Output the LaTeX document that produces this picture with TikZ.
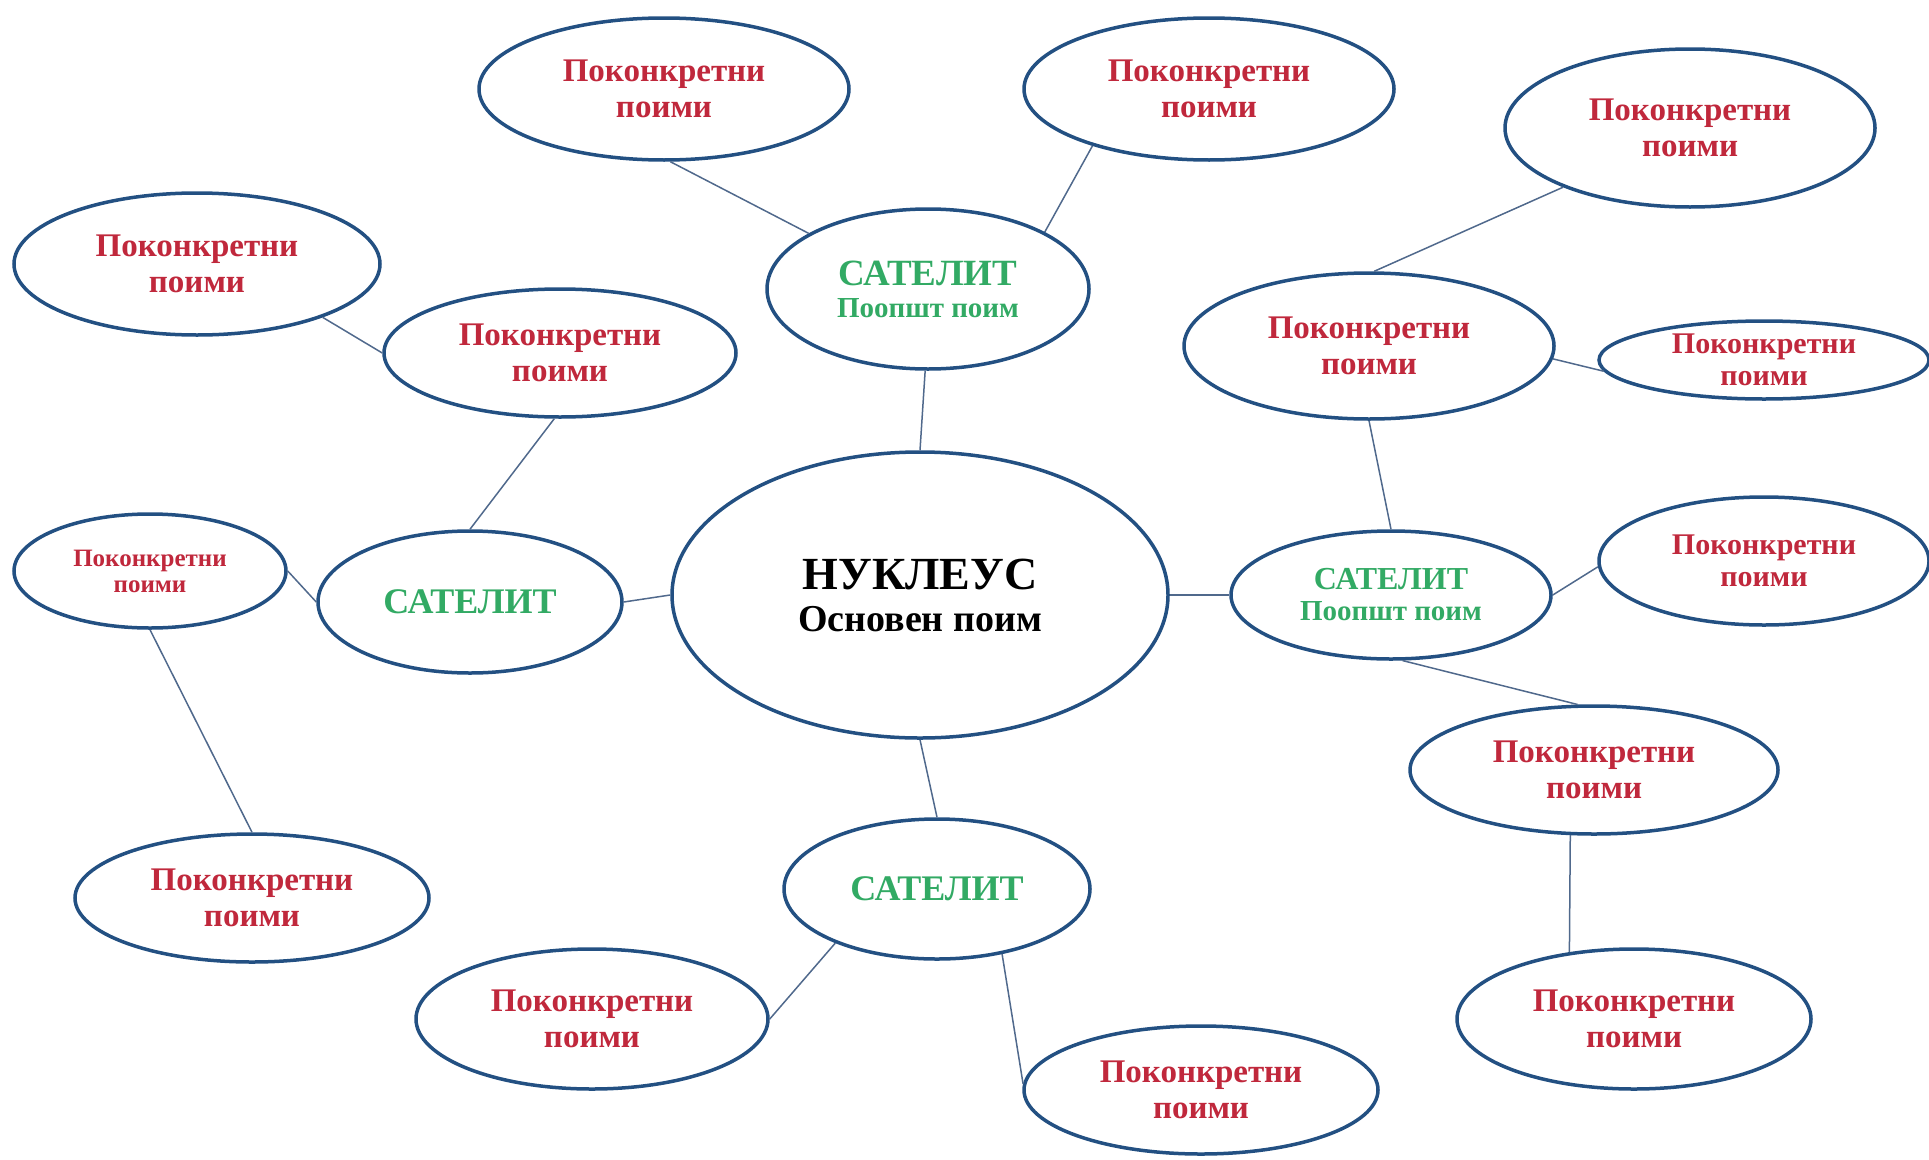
\documentclass[tikz,border=0pt]{standalone}
\usepackage{fontspec}
\setmainfont{Liberation Serif}
\usetikzlibrary{shapes.geometric}

\definecolor{rimblue}{RGB}{35,80,130}
\definecolor{linkblue}{RGB}{80,105,140}
\definecolor{conred}{RGB}{192,40,60}
\definecolor{satgreen}{RGB}{50,170,100}

\begin{document}
\begin{tikzpicture}[x=1pt, y=-1pt]
        \tikzset{every node/.style={ellipse, draw=rimblue, line width=3.5pt, fill=white, inner sep=0pt, align=center, font=\bfseries}}
        \tikzset{sat/.style={text=satgreen}, con/.style={text=conred, font=\bfseries\fontsize{33}{36}\selectfont}}
        \tikzset{link/.style={draw=linkblue, line width=1.5pt}}
        \useasboundingbox (0,0) rectangle (1929,1159);
        % nucleus and satellites
        \node [font=\bfseries\fontsize{46}{42}\selectfont, minimum width=496, minimum height=286] (nuc) at (920,595) {НУКЛЕУС\\ \fontsize{38}{42}\selectfont Основен поим};
        \node [sat, font=\bfseries\fontsize{37}{32}\selectfont, minimum width=322, minimum height=160] (tsat) at (928,289) {САТЕЛИТ\\ \fontsize{29}{32}\selectfont Поопшт поим};
        \node [sat, font=\bfseries\fontsize{36}{40}\selectfont, minimum width=304, minimum height=142] (lsat) at (470,602) {САТЕЛИТ};
        \node [sat, font=\bfseries\fontsize{32}{31}\selectfont, minimum width=320, minimum height=128] (rsat) at (1391,595) {САТЕЛИТ\\ \fontsize{29}{31}\selectfont Поопшт поим};
        \node [sat, font=\bfseries\fontsize{36}{40}\selectfont, minimum width=306, minimum height=140] (bsat) at (937,889) {САТЕЛИТ};
        % concrete concepts
        \node [con, minimum width=370, minimum height=142] (a) at (664,89) {Поконкретни\\поими};
        \node [con, minimum width=370, minimum height=142] (b) at (1209,89) {Поконкретни\\поими};
        \node [con, minimum width=366, minimum height=142] (c) at (197,264) {Поконкретни\\поими};
        \node [con, minimum width=352, minimum height=128] (d) at (560,353) {Поконкретни\\поими};
        \node [con, minimum width=370, minimum height=158] (e) at (1690,128) {Поконкретни\\поими};
        \node [con, minimum width=370, minimum height=146] (f) at (1369,346) {Поконкретни\\поими};
        \node [con, font=\bfseries\fontsize{30}{32}\selectfont, minimum width=330, minimum height=78] (g) at (1764,360) {Поконкретни\\поими};
        \node [con, font=\bfseries\fontsize{30}{32}\selectfont, minimum width=330, minimum height=128] (h) at (1764,561) {Поконкретни\\поими};
        \node [con, font=\bfseries\fontsize{25}{26}\selectfont, minimum width=272, minimum height=114] (i) at (150,571) {Поконкретни\\поими};
        \node [con, minimum width=354, minimum height=128] (j) at (252,898) {Поконкретни\\поими};
        \node [con, minimum width=368, minimum height=128] (k) at (1594,770) {Поконкретни\\поими};
        \node [con, minimum width=354, minimum height=140] (l) at (1634,1019) {Поконкретни\\поими};
        \node [con, minimum width=352, minimum height=140] (m) at (592,1019) {Поконкретни\\поими};
        \node [con, minimum width=354, minimum height=128] (n) at (1201,1090) {Поконкретни\\поими};
        % links
        \draw [link] (nuc.90) -- (tsat.268);
        \draw [link] (nuc.180) -- (lsat.0);
        \draw [link] (nuc.0) -- (rsat.180);
        \draw [link] (nuc.270) -- (bsat.90);
        \draw [link] (tsat.155) -- (a.275);
        \draw [link] (tsat.26) -- (b.206);
        \draw [link] (lsat.90) -- (d.265);
        \draw [link] (lsat.180) -- (i.0);
        \draw [link] (i.270) -- (j.90);
        \draw [link] (c.337) -- (d.180);
        \draw [link] (rsat.90) -- (f.270);
        \draw [link] (f.86) -- (e.205);
        \draw [link] (f.356) -- (g.184);
        \draw [link] (rsat.0) -- (h.182);
        \draw [link] (rsat.280) -- (k.104);
        \draw [link] (k.250) -- (l.134);
        \draw [link] (bsat.208) -- (m.0);
        \draw [link] (bsat.315) -- (n.178);
\end{tikzpicture}
\end{document}
